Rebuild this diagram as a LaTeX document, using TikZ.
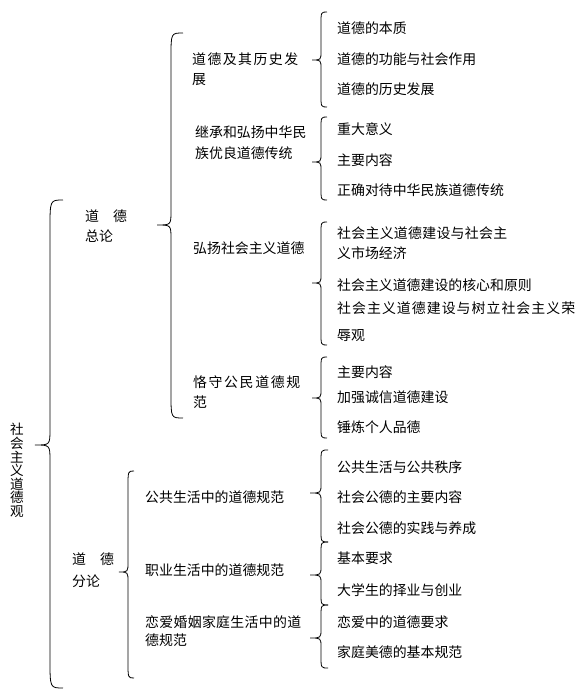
\documentclass[tikz,border=0pt]{standalone}
\usepackage{fontspec}
\setmainfont{Noto Sans CJK SC}
\tikzset{
  lbl/.style={anchor=base west, inner sep=0pt, font=\fontsize{13.9bp}{20bp}\selectfont},
  brc/.style={draw=black, line width=0.8bp},
}
\newcommand\twol[3][0bp]{\begin{tabular}[t]{@{}l@{}}#2\\[#1]#3\end{tabular}}
\newcommand\spreadto[2]{\makebox[#1][s]{#2}}
\newcommand\hf{\hfill{}}
% #1 xend, #2 xv, #3 xtip, #4 top, #5 tip, #6 bottom, #7 end radius, #8 tip radius
\newcommand\mybrace[8]{%
  \draw[brc] (#1,#4) .. controls (#2,#4) .. (#2,#4+#7) -- (#2,#5-#8)
    .. controls (#2,#5) .. (#3,#5) .. controls (#2,#5) .. (#2,#5+#8)
    -- (#2,#6-#7) .. controls (#2,#6) .. (#1,#6);}
\begin{document}
\begin{tikzpicture}[x=1bp,y=-1bp]
\useasboundingbox[fill=white] (0,0) rectangle (578,697);

% root
\node[inner sep=0pt, align=center, font=\fontsize{13.6bp}{13.6bp}\selectfont] (root) at (17,470.5) {社\\会\\主\\义\\道\\德\\观};
\mybrace{63}{50}{35}{200}{445}{688}{28}{16}

% level 1
\node[lbl] (zl) at (85,221) {\twol{道　德}{总论}};
\node[lbl] (fl) at (72,564) {\twol[2bp]{道　德}{分论}};
\mybrace{183}{171}{157}{33}{225}{418}{24}{14}
\mybrace{134}{128}{119}{471}{572}{678}{16}{10}

% level 2 (top)
\node[lbl] (a1) at (192,65) {\twol{\spreadto{106bp}{道\hf 德\hf 及\hf 其\hf 历\hf 史\hf 发}}{展}};
\node[lbl] (a2) at (195,138) {\twol{继承和弘扬中华民}{族优良道德传统}};
\node[lbl] (a3) at (193,253) {弘扬社会主义道德};
\node[lbl] (a4) at (193,387) {\twol{\spreadto{107bp}{恪\hf 守\hf 公\hf 民\hf 道\hf 德\hf 规}}{范}};

% level 2 (bottom)
\node[lbl] (b1) at (145,502) {公共生活中的道德规范};
\node[lbl] (b2) at (145,575) {职业生活中的道德规范};
\node[lbl] (b3) at (145,627) {\twol[-2bp]{\spreadto{156bp}{恋\hf 爱\hf 婚\hf 姻\hf 家\hf 庭\hf 生\hf 活\hf 中\hf 的\hf 道}}{德规范}};

% level 3 braces (top)
\mybrace{327}{321}{312}{12}{60}{107}{12}{9}
\mybrace{327}{321}{312}{117}{162}{200}{12}{9}
\mybrace{327}{321}{312}{222}{283}{345}{12}{9}
\mybrace{327}{321}{312}{357}{398}{438}{12}{9}
% level 3 braces (bottom)
\mybrace{328}{321}{310}{450}{493}{542}{12}{9}
\mybrace{328}{321}{310}{542}{575}{605}{12}{9}
\mybrace{328}{321}{310}{605}{638}{668}{12}{9}

% level 3 texts
\node[lbl] (a1x1) at (337,34) {道德的本质};
\node[lbl] (a1x2) at (337,65) {道德的功能与社会作用};
\node[lbl] (a1x3) at (337,95) {道德的历史发展};
\node[lbl] (a2x1) at (337,135) {重大意义};
\node[lbl] (a2x2) at (337,165) {主要内容};
\node[lbl] (a2x3) at (337,195) {正确对待中华民族道德传统};
\node[lbl] (a3x1) at (337,238) {\twol{\spreadto{170bp}{社\hf 会\hf 主\hf 义\hf 道\hf 德\hf 建\hf 设\hf 与\hf 社\hf 会\hf 主}}{义市场经济}};
\node[lbl] (a3x2) at (337,290) {社会主义道德建设的核心和原则};
\node[lbl] (a3x3) at (337,313) {\twol[7bp]{\spreadto{238bp}{社\hf 会\hf 主\hf 义\hf 道\hf 德\hf 建\hf 设\hf 与\hf 树\hf 立\hf 社\hf 会\hf 主\hf 义\hf 荣}}{辱观}};
\node[lbl] (a4x1) at (337,377) {主要内容};
\node[lbl] (a4x2) at (337,402) {加强诚信道德建设};
\node[lbl] (a4x3) at (337,432) {锤炼个人品德};
\node[lbl] (b1x1) at (337,472) {公共生活与公共秩序};
\node[lbl] (b1x2) at (337,502) {社会公德的主要内容};
\node[lbl] (b1x3) at (337,533) {社会公德的实践与养成};
\node[lbl] (b2x1) at (337,563) {基本要求};
\node[lbl] (b2x2) at (337,595) {大学生的择业与创业};
\node[lbl] (b3x1) at (337,627) {恋爱中的道德要求};
\node[lbl] (b3x2) at (337,657) {家庭美德的基本规范};
\end{tikzpicture}
\end{document}
